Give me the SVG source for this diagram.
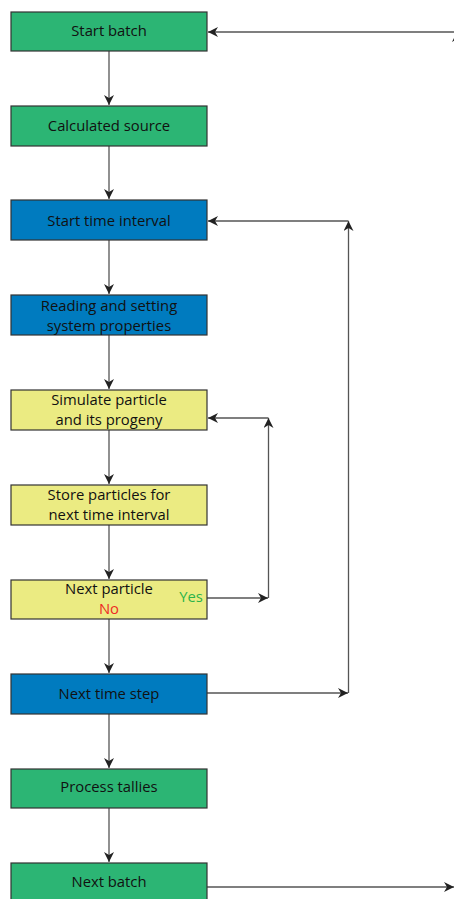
<svg xmlns="http://www.w3.org/2000/svg" width="454" height="899" viewBox="0 0 454 899">
  <style>
    .box { stroke: #333; stroke-width: 1.2; }
    .green { fill: #2cb574; }
    .blue { fill: #007bbf; }
    .yellow { fill: #ebeb82; }
    .lbl { font-family: "Open Sans", "Noto Sans", sans-serif; font-size: 14.8px; fill: #111; text-anchor: middle; }
    .edge { fill: none; stroke: #555; stroke-width: 1.3; }
  </style>
  <defs>
    <marker id="arrow" viewBox="0 0 10 10" refX="10" refY="5" markerWidth="10" markerHeight="10" markerUnits="userSpaceOnUse" orient="auto">
      <path d="M0,0 L10,5 L0,10 L3,5 Z" fill="#222"/>
    </marker>
  </defs>
  <rect width="454" height="899" fill="#fff"/>

  <g id="connectors">
    <line class="edge" x1="109" y1="51" x2="109" y2="105" marker-end="url(#arrow)"/>
    <line class="edge" x1="109" y1="146" x2="109" y2="199" marker-end="url(#arrow)"/>
    <line class="edge" x1="109" y1="240" x2="109" y2="294" marker-end="url(#arrow)"/>
    <line class="edge" x1="109" y1="335" x2="109" y2="389" marker-end="url(#arrow)"/>
    <line class="edge" x1="109" y1="430" x2="109" y2="484" marker-end="url(#arrow)"/>
    <line class="edge" x1="109" y1="525" x2="109" y2="579" marker-end="url(#arrow)"/>
    <line class="edge" x1="109" y1="619" x2="109" y2="673" marker-end="url(#arrow)"/>
    <line class="edge" x1="109" y1="714" x2="109" y2="768" marker-end="url(#arrow)"/>
    <line class="edge" x1="109" y1="808" x2="109" y2="862" marker-end="url(#arrow)"/>
    <!-- yes loop back to particle simulation -->
    <line class="edge" x1="207" y1="598" x2="268" y2="598" marker-end="url(#arrow)"/>
    <line class="edge" x1="268.5" y1="598" x2="268.5" y2="418" marker-end="url(#arrow)"/>
    <line class="edge" x1="268.5" y1="418" x2="208" y2="418" marker-end="url(#arrow)"/>
    <!-- time step loop -->
    <line class="edge" x1="207" y1="693" x2="348" y2="693" marker-end="url(#arrow)"/>
    <line class="edge" x1="348.5" y1="693" x2="348.5" y2="221" marker-end="url(#arrow)"/>
    <line class="edge" x1="348.5" y1="221" x2="208" y2="221" marker-end="url(#arrow)"/>
    <!-- batch loop, running along the right edge -->
    <line class="edge" x1="207" y1="887" x2="454" y2="887" marker-end="url(#arrow)"/>
    <line class="edge" x1="457" y1="887" x2="457" y2="32" marker-end="url(#arrow)"/>
    <line class="edge" x1="457" y1="32" x2="208" y2="32" marker-end="url(#arrow)"/>
  </g>

  <g id="start-batch">
    <rect class="box green" x="11" y="12" width="196" height="39"/>
    <text class="lbl" x="109" y="35.5">Start batch</text>
  </g>
  <g id="calculated-source">
    <rect class="box green" x="11" y="106" width="196" height="40"/>
    <text class="lbl" x="109" y="130.5">Calculated source</text>
  </g>
  <g id="start-time-interval">
    <rect class="box blue" x="11" y="200" width="196" height="40"/>
    <text class="lbl" x="109" y="225.5">Start time interval</text>
  </g>
  <g id="reading-properties">
    <rect class="box blue" x="11" y="295" width="196" height="40"/>
    <text class="lbl" x="109" y="311">Reading  and setting</text>
    <text class="lbl" x="109" y="331">system properties</text>
  </g>
  <g id="simulate-particle">
    <rect class="box yellow" x="11" y="390" width="196" height="40"/>
    <text class="lbl" x="109" y="405">Simulate particle</text>
    <text class="lbl" x="109" y="425">and its progeny</text>
  </g>
  <g id="store-particles">
    <rect class="box yellow" x="11" y="485" width="196" height="40"/>
    <text class="lbl" x="109" y="500">Store particles for</text>
    <text class="lbl" x="109" y="520">next time interval</text>
  </g>
  <g id="next-particle">
    <rect class="box yellow" x="11" y="580" width="196" height="39"/>
    <text class="lbl" x="109" y="594">Next particle</text>
    <text class="lbl" x="109" y="614" style="fill:#ee2a24">No</text>
    <text class="lbl" x="191" y="602" style="fill:#2cb34a">Yes</text>
  </g>
  <g id="next-time-step">
    <rect class="box blue" x="11" y="674" width="196" height="40"/>
    <text class="lbl" x="109" y="699">Next time step</text>
  </g>
  <g id="process-tallies">
    <rect class="box green" x="11" y="769" width="196" height="39"/>
    <text class="lbl" x="109" y="792">Process tallies</text>
  </g>
  <g id="next-batch">
    <rect class="box green" x="11" y="863" width="196" height="40"/>
    <text class="lbl" x="109" y="887">Next batch</text>
  </g>
</svg>
